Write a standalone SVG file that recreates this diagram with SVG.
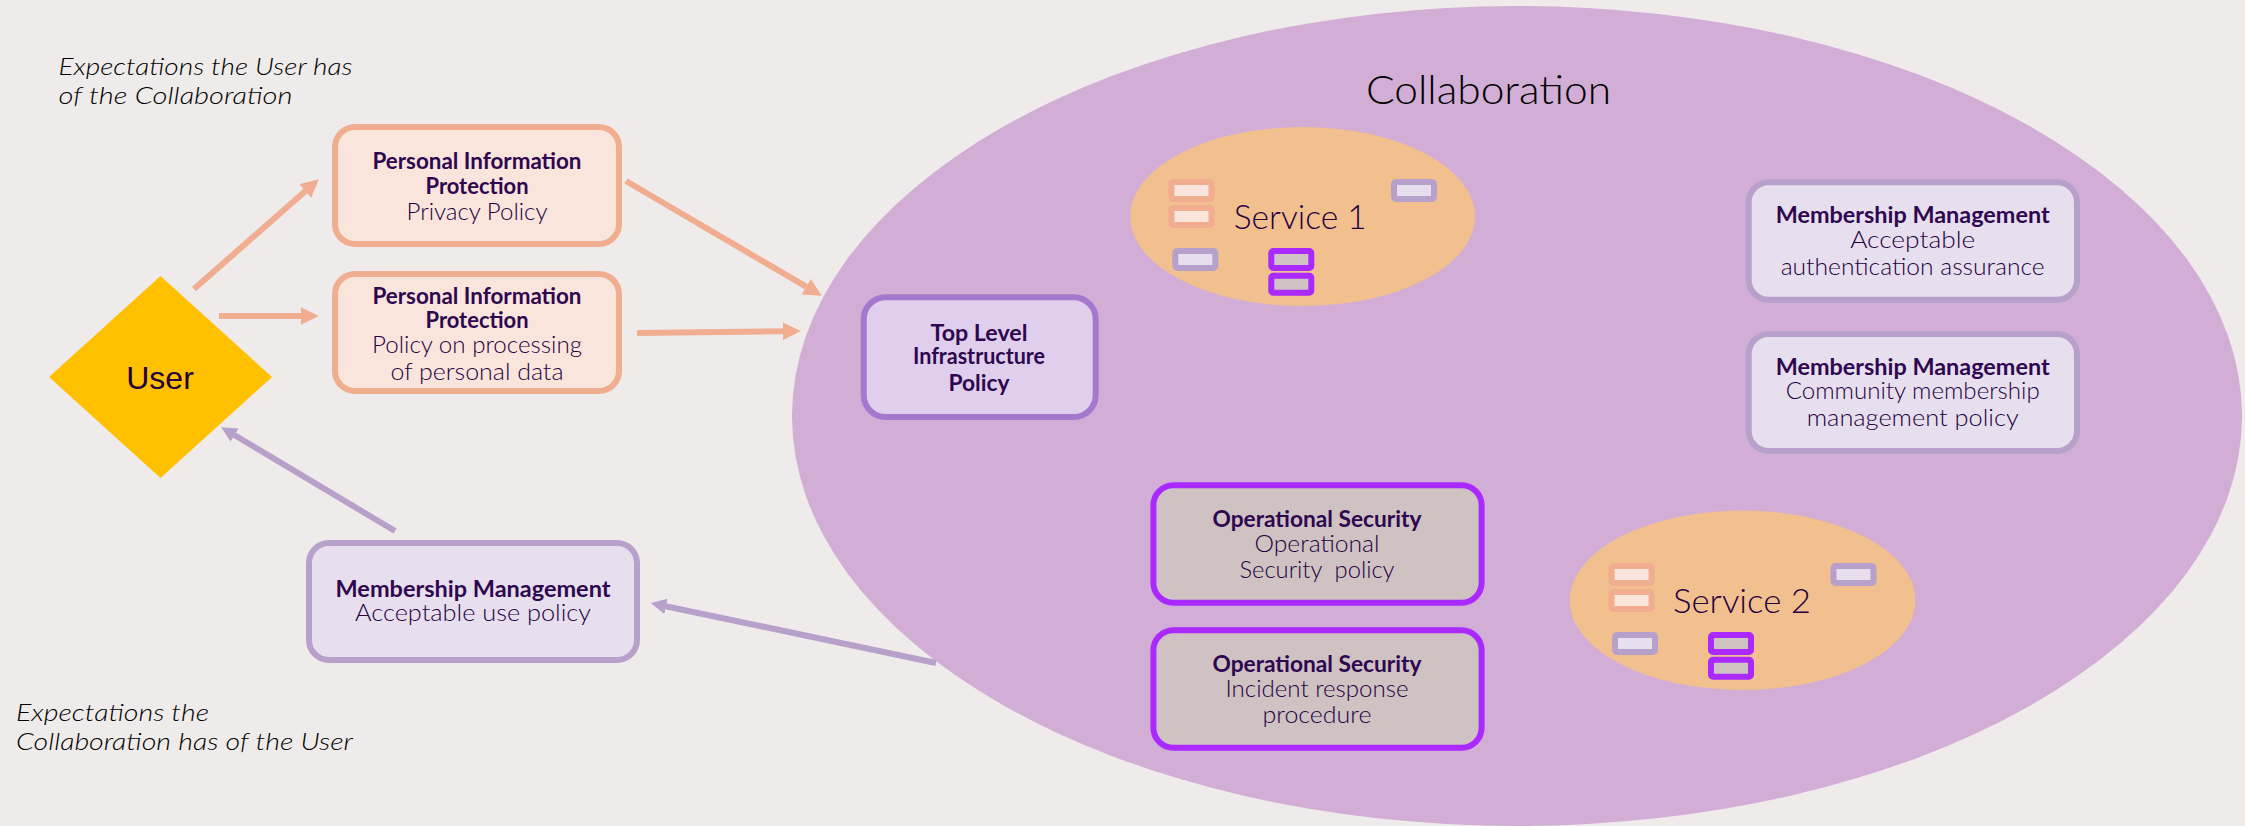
<svg xmlns="http://www.w3.org/2000/svg" width="2245" height="826" viewBox="0 0 2245 826">
<style>
text{font-family:"Lato","Open Sans","Liberation Sans",sans-serif;fill:#24003f;font-size:22.5px;text-anchor:middle;font-weight:300}
.b{font-weight:700;fill:#2e0750}
.i{font-style:italic;fill:#000;font-size:24px;text-anchor:start;font-weight:300}
.box{stroke-width:6}
.pe{fill:#f9e5db;stroke:#f0ad8f}
.li{fill:#e7dfed;stroke:#b7a0ca}
.pu{fill:#cfc2c3;stroke:#a929ff}
.tl{fill:#e0cfec;stroke:#a478cc}
.svc{fill:#f2bf8e}
.c1{stroke:#f0ad8f;stroke-width:6;fill:none;marker-end:url(#ap)}
.c2{stroke:#b7a0ca;stroke-width:6;fill:none;marker-end:url(#al)}
</style>
<defs>
<marker id="ap" markerUnits="strokeWidth" markerWidth="3" markerHeight="3" refX="0.05" refY="1.5" orient="auto"><path d="M0 0L3 1.5L0 3z" fill="#f0ad8f"/></marker>
<marker id="al" markerUnits="strokeWidth" markerWidth="3" markerHeight="3" refX="0.05" refY="1.5" orient="auto"><path d="M0 0.2L2.6 1.5L0 2.8z" fill="#b7a0ca"/></marker>
</defs>
<rect id="background" width="2245" height="826" fill="#efebea"/>
<g id="collaboration">
<ellipse cx="1517" cy="416" rx="725" ry="410" fill="#d2aed6"/>
<text x="1488.5" y="104" style="font-size:39px;fill:#000" textLength="245" lengthAdjust="spacingAndGlyphs">Collaboration</text>
</g>
<g id="connectors">
<line class="c1" x1="194" y1="289" x2="305.5" y2="190.9"/>
<line class="c1" x1="219" y1="316" x2="301" y2="316"/>
<line class="c1" x1="626" y1="181" x2="806.5" y2="286.9"/>
<line class="c1" x1="637" y1="333" x2="783" y2="331.2"/>
<line class="c2" x1="395" y1="531" x2="234.4" y2="435"/>
<line class="c2" x1="936" y1="663" x2="665.7" y2="606.2"/>
</g>
<g id="user">
<path d="M160.5 276L272 377L160.5 478L49 377z" fill="#ffc000"/>
<text x="160" y="389" style="font-family:'Liberation Sans',Arial,sans-serif;font-size:32px;font-weight:400">User</text>
</g>
<g id="note-user"><text class="i" x="58.5" y="75" textLength="294" lengthAdjust="spacingAndGlyphs">Expectations the User has</text><text class="i" x="58.5" y="104" textLength="234" lengthAdjust="spacingAndGlyphs">of the Collaboration</text></g>
<g id="note-collab"><text class="i" x="16" y="721" textLength="193" lengthAdjust="spacingAndGlyphs">Expectations the</text><text class="i" x="16" y="750" textLength="337" lengthAdjust="spacingAndGlyphs">Collaboration has of the User</text></g>
<g id="pip-privacy">
<rect class="box pe" x="335" y="127" width="284" height="117" rx="20"/>
<text class="b" x="477" y="168.5" textLength="209" lengthAdjust="spacingAndGlyphs">Personal Information</text>
<text class="b" x="477" y="193.5" textLength="103" lengthAdjust="spacingAndGlyphs">Protection</text>
<text x="477" y="219.5" textLength="141" lengthAdjust="spacingAndGlyphs">Privacy Policy</text>
</g>
<g id="pip-processing">
<rect class="box pe" x="335" y="274" width="284" height="117" rx="20"/>
<text class="b" x="477" y="303.5" textLength="209" lengthAdjust="spacingAndGlyphs">Personal Information</text>
<text class="b" x="477" y="327.5" textLength="103" lengthAdjust="spacingAndGlyphs">Protection</text>
<text x="477" y="353" textLength="210" lengthAdjust="spacingAndGlyphs">Policy on processing</text>
<text x="477" y="380" textLength="173" lengthAdjust="spacingAndGlyphs">of personal data</text>
</g>
<g id="mm-use">
<rect class="box li" x="309" y="543" width="328" height="117" rx="20"/>
<text class="b" x="473" y="597" textLength="275" lengthAdjust="spacingAndGlyphs">Membership Management</text>
<text x="473" y="621" textLength="236" lengthAdjust="spacingAndGlyphs">Acceptable use policy</text>
</g>
<g id="top-level">
<rect class="box tl" x="863.7" y="297.3" width="232" height="119.7" rx="22"/>
<text class="b" x="979" y="340.7" textLength="97" lengthAdjust="spacingAndGlyphs">Top Level</text>
<text class="b" x="979" y="364" textLength="132" lengthAdjust="spacingAndGlyphs">Infrastructure</text>
<text class="b" x="979" y="390.7" textLength="61" lengthAdjust="spacingAndGlyphs">Policy</text>
</g>
<g id="service-1">
<ellipse class="svc" cx="1302.5" cy="216.5" rx="172.5" ry="89.5"/>
<rect class="box pe" x="1171.5" y="182" width="40" height="17" rx="2"/>
<rect class="box pe" x="1171.5" y="208" width="40" height="17" rx="2"/>
<rect class="box li" x="1394" y="182" width="40" height="17" rx="2"/>
<rect class="box li" x="1175.3" y="251" width="40" height="17" rx="2"/>
<rect class="box pu" x="1271.3" y="251" width="40" height="17" rx="2"/>
<rect class="box pu" x="1271.3" y="275.7" width="40" height="17" rx="2"/>
<text x="1300.3" y="229" style="font-size:33px" textLength="133" lengthAdjust="spacingAndGlyphs">Service 1</text>
</g>
<g id="service-2">
<ellipse class="svc" cx="1742.5" cy="600.3" rx="173" ry="89.7"/>
<rect class="box pe" x="1611.6" y="566" width="40" height="17" rx="2"/>
<rect class="box pe" x="1611.6" y="592" width="40" height="17" rx="2"/>
<rect class="box li" x="1833.5" y="566" width="40" height="17" rx="2"/>
<rect class="box li" x="1615" y="635" width="40" height="17" rx="2"/>
<rect class="box pu" x="1711" y="635" width="40" height="17" rx="2"/>
<rect class="box pu" x="1711" y="659.7" width="40" height="17" rx="2"/>
<text x="1742" y="612.7" style="font-size:33px" textLength="138" lengthAdjust="spacingAndGlyphs">Service 2</text>
</g>
<g id="mm-auth">
<rect class="box li" x="1748.7" y="182.3" width="328.3" height="117.4" rx="20"/>
<text class="b" x="1912.7" y="223.3" textLength="274" lengthAdjust="spacingAndGlyphs">Membership Management</text>
<text x="1912.7" y="248.3" textLength="125" lengthAdjust="spacingAndGlyphs">Acceptable</text>
<text x="1912.7" y="275" textLength="264" lengthAdjust="spacingAndGlyphs">authentication assurance</text>
</g>
<g id="mm-community">
<rect class="box li" x="1748.7" y="334" width="328.3" height="117" rx="20"/>
<text class="b" x="1912.7" y="375.3" textLength="274" lengthAdjust="spacingAndGlyphs">Membership Management</text>
<text x="1912.7" y="399.3" textLength="254" lengthAdjust="spacingAndGlyphs">Community membership</text>
<text x="1912.7" y="426" textLength="212" lengthAdjust="spacingAndGlyphs">management policy</text>
</g>
<g id="os-policy">
<rect class="box pu" x="1153.4" y="485.3" width="328.2" height="117.4" rx="20"/>
<text class="b" x="1317" y="526.7" textLength="209" lengthAdjust="spacingAndGlyphs">Operational Security</text>
<text x="1317" y="551.7" textLength="125" lengthAdjust="spacingAndGlyphs">Operational</text>
<text x="1317" y="577.7" xml:space="preserve" textLength="155" lengthAdjust="spacingAndGlyphs">Security  policy</text>
</g>
<g id="os-incident">
<rect class="box pu" x="1153.4" y="630.3" width="328.2" height="117.4" rx="20"/>
<text class="b" x="1317" y="671.7" textLength="209" lengthAdjust="spacingAndGlyphs">Operational Security</text>
<text x="1317" y="696.7" textLength="183" lengthAdjust="spacingAndGlyphs">Incident response</text>
<text x="1317" y="723" textLength="109" lengthAdjust="spacingAndGlyphs">procedure</text>
</g>
</svg>
